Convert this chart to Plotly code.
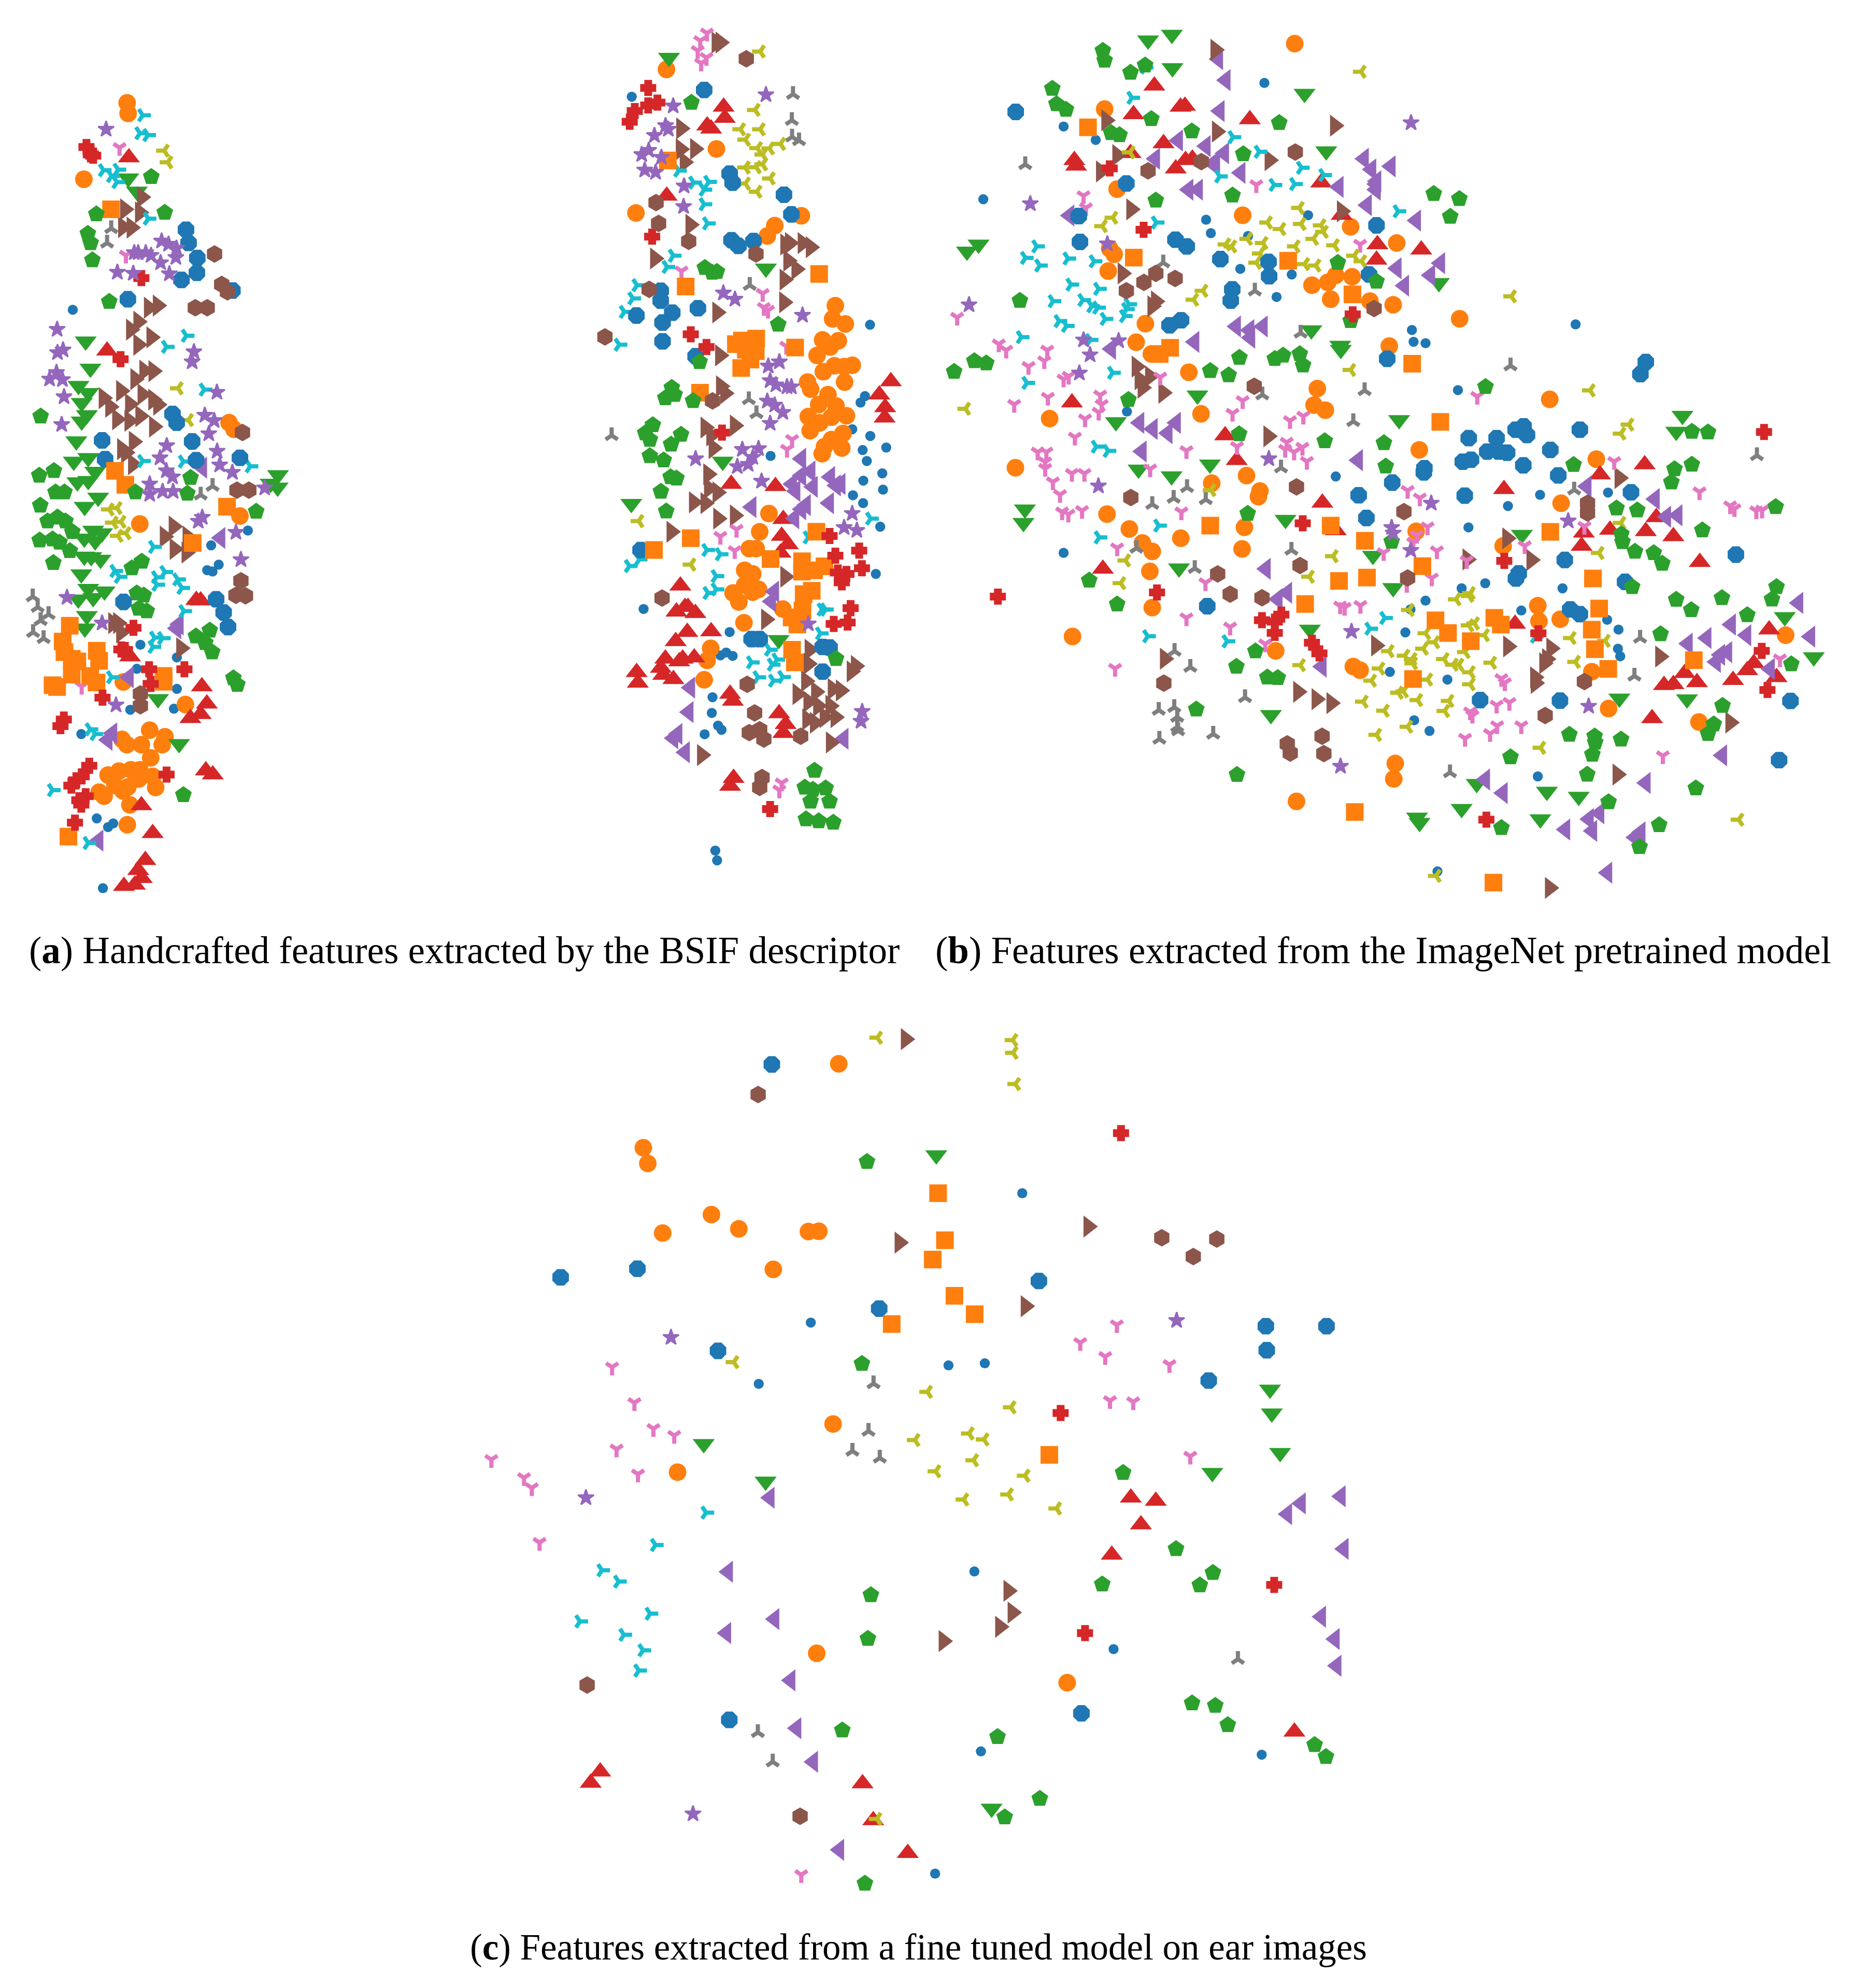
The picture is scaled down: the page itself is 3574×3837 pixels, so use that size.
import plotly.graph_objects as go

# every scatter was read on two sheets stacked vertically, lower() moves the second sheet down


def lower(points, dy=1568):
    return [(x, y + dy) for x, y in points]


# left scatter of (a)
a_dot = [(367,878)] + lower([(1065,201),(1250,145),(1103,274),(1045,295),(1072,300),(708,577),(892,625),(690,668),(892,744),(657,823),(877,819),(410,915),(488,1234),(545,1267),(571,1253),(519,1498)])
a_circle = [(641,95),(646,135),(423,384),(1155,1305),(1180,1330)] + lower([(705,120),(1210,90),(755,900),(832,925),(818,955),(640,955),(615,935),(713,955),(760,1005),(545,1070),(600,1055),(660,1050),(705,1050),(770,1075),(580,1110),(700,1085),(645,1115),(620,1130),(785,1117),(500,1135),(525,1150),(655,1183),(642,1258),(622,718),(935,803)])
a_down = [(647,380),(690,430),(432,997),(456,1100),(396,1165),(445,1192),(412,1230),(438,1276),(412,1300),(385,1375),(372,1452),(445,1438),(480,1490),(390,1530),(445,1525),(1402,1503),(1365,1535),(1400,1550)] + lower([(427,55),(495,20),(515,155),(470,145),(425,175),(480,185),(425,243),(460,245),(507,255),(410,310),(445,365),(527,375),(395,405),(470,400),(438,468),(428,515),(797,782),(903,952)])
a_up = [(650,302),(540,1033)] + lower([(990,408),(1012,410),(1018,735),(1043,800),(1012,840),(960,855),(656,622),(1038,1053),(1073,1068),(713,1185),(770,1290),(733,1392),(697,1430),(715,1460),(680,1485),(625,1490)])
a_left = [(1020,1475)] + lower([(1112,173),(902,500),(890,515),(650,700),(567,912),(543,937),(497,1318)])
a_right = [(715,452),(630,498),(705,510),(620,565),(663,567),(750,870),(795,862),(697,923),(660,953),(763,982),(697,1010),(773,1110),(727,1108),(682,1140),(610,1185),(522,1212),(555,1245),(655,1235),(718,1198),(772,1218),(797,1237),(590,1292),(652,1298),(707,1280),(776,1320),(674,1377),(615,1405),(635,1418),(670,1462)] + lower([(875,130),(830,168),(945,168),(880,215),(940,228),(913,590),(595,495),(570,495),(610,530)])
a_tri_down = [(603,265),(635,672)] + lower([(412,735)])
a_tri_up = [(561,570),(540,625),(1072,1545)] + lower([(1012,10),(165,395),(190,435),(205,485),(245,462),(167,530),(220,553)])
a_tri_left = [(828,276),(846,320),(898,1175),(950,1295)] + lower([(550,65),(590,60),(570,115),(610,112),(595,165),(635,155)])
a_tri_right = [(720,142),(706,210),(746,217),(522,350),(596,348),(563,372),(590,395),(748,533),(940,976),(840,1018),(720,1450),(925,1452),(1030,1180),(1262,1470)] + lower([(775,207),(580,298),(602,320),(790,322),(832,302),(792,350),(897,330),(918,362),(928,450),(780,550),(820,552),(772,585),(563,700),(455,897),(480,915),(265,1127),(445,1327)])
a_octagon = [(938,575),(951,625),(995,682),(993,738),(915,765),(1172,805),(645,838),(870,1272),(891,1305),(515,1372),(530,1443),(969,1376),(989,1447),(1210,1438)] + lower([(623,415),(1090,405),(1128,455),(1150,510)])
a_square = [(560,498),(580,1487),(632,1540)] + lower([(1145,55),(972,192),(352,505),(316,565),(325,605),(362,630),(390,640),(488,600),(500,638),(362,690),(455,695),(487,720),(265,730),(288,737),(825,695),(825,717),(345,1303)])
a_pentagon = [(763,375),(486,516),(831,510),(443,590),(457,625),(466,690),(551,847),(205,1281),(198,1505),(272,1487),(961,1513)] + lower([(280,0),(325,0),(683,0),(945,5),(203,50),(1292,73),(240,110),(290,95),(330,110),(365,150),(200,182),(265,178),(300,190),(352,222),(269,267),(665,287),(715,262),(690,382),(725,390),(700,440),(740,450),(988,545),(1058,523),(1035,570),(1070,605),(1177,703),(1197,728),(925,1145)])
a_plus = [(436,262),(458,290),(470,295),(713,758),(608,1065)] + lower([(673,513),(612,595),(630,597),(752,670),(930,670),(760,725),(517,777),(322,860),(305,885),(450,1035),(412,1075),(385,1090),(360,1110),(432,1150),(400,1165),(410,1182),(840,1068),(378,1250)])
a_star = [(535,195),(815,618),(850,630),(890,645),(887,680),(677,662),(697,662),(735,662),(762,672),(810,700),(592,736),(672,740),(854,742),(288,952),(290,1040),(318,1030),(285,1115),(250,1140),(315,1142),(323,1207),(311,1312),(978,1037),(969,1075),(1094,1190),(1033,1277),(1080,1297),(1053,1347),(841,1392),(807,1438),(1095,1413),(1108,1465),(1172,1493),(839,1487),(870,1510),(755,1537),(820,1565),(873,1565),(1335,1552)] + lower([(1020,95),(1000,110),(1190,152),(1215,255),(338,398),(515,495),(585,805),(755,8)])
a_hexagon = [(1082,667),(1118,782),(1147,810),(985,870),(1045,870),(1223,1342),(1195,1560),(1255,1560)] + lower([(1215,335),(1190,390),(1238,392),(708,763),(708,808)])

# middle scatter
m_dot = [(267,289),(1297,1101),(1275,1355),(1256,1378),(1220,1473),(1298,1497),(1265,1547),(1367,1538)] + lower([(867,0),(1283,18),(1350,62),(1268,88),(1353,120),(1223,140),(1267,168),(1341,252),(1322,420),(318,545),(690,627),(650,710),(675,700),(703,712),(616,859),(613,915),(640,960),(655,975),(582,991),(628,1405),(636,1440)])
m_circle = [(417,192),(633,475),(285,703),(1000,713),(885,748),(853,785),(1147,1033),(1135,1080),(1190,1098),(1092,1155),(1160,1158),(1125,1180),(1068,1210),(1143,1247),(1095,1268),(1185,1250),(1220,1245),(1187,1305),(1027,1305),(1040,1330),(1115,1350),(1075,1385),(1150,1390),(1195,1425),(1030,1428),(1080,1450),(1130,1430),(1038,1478),(1180,1488),(1130,1510),(1100,1535),(1175,1540),(1090,1560)] + lower([(860,205),(820,270),(775,330),(805,330),(755,407),(790,420),(755,460),(705,488),(790,485),(815,475),(730,520),(920,545),(752,594),(608,685),(593,728),(580,797)])
m_down = [(428,150),(847,900)] + lower([(660,20),(265,170),(902,655)])
m_up = [(664,325),(669,365),(593,392),(610,403),(418,642),(1387,1303),(1337,1350),(1362,1395),(1360,1432)] + lower([(697,100),(888,108),(922,225),(915,285),(942,315),(910,345),(477,462),(460,555),(497,538),(510,538),(542,560),(507,627),(457,660),(610,625),(412,722),(393,755),(487,722),(472,732),(537,718),(447,795),(403,780),(288,770),(293,808),(692,847),(704,872),(904,917),(932,955),(922,987),(707,1147),(692,1175)])
m_left = lower([(1000,10),(1040,55),(1000,70),(960,100),(975,125),(1050,110),(1125,75),(1170,100),(1150,105),(1120,168),(785,182),(1020,175),(1000,190),(970,222),(883,483),(870,518),(520,825),(513,912),(465,990),(447,1005),(497,1055),(1183,1007)])
m_right = [(650,96),(633,96),(480,402),(478,476),(540,475),(495,522),(520,745),(367,865),(930,815),(950,810),(1005,810),(1040,825),(943,873),(978,903),(927,940),(925,1021),(636,1057),(648,1210),(652,1320),(670,1345),(585,1467),(712,1460),(610,1495),(620,1540)] + lower([(597,65),(600,115),(637,130),(535,165),(585,168),(640,223),(712,212),(438,270),(847,582),(930,430),(1035,690),(1030,740),(1020,802),(983,848),(1063,840),(1135,830),(1170,835),(1030,875),(1072,890),(1125,890),(1025,938),(1058,950),(1100,930),(1147,930),(1235,748),(1217,767),(570,1065),(1127,1020)])
m_tri_down = [(592,63),(563,90),(552,125),(590,150),(567,170),(482,910),(833,990),(838,1040),(856,1050),(960,1510),(938,1545),(935,1178)] + lower([(720,262),(650,287),(712,338),(915,1165),(905,1190)])
m_tri_up = [(964,280),(959,373),(960,432),(990,445),(777,960),(773,1367),(806,1417),(180,1495)]
m_tri_left = [(822,128),(800,336),(737,405),(822,405),(758,442),(810,472),(862,473),(910,457),(832,495),(832,530),(757,541),(805,540),(865,580),(758,598),(808,627)] + lower([(297,232),(522,387)])
m_tri_right = [(470,552),(535,595),(600,592),(580,620),(580,672),(595,740),(447,855),(420,895),(290,960),(272,1007),(235,1055),(213,1172)] + lower([(1300,223),(1030,290),(592,335),(650,350),(257,392),(300,368),(632,428),(632,475),(597,488),(1090,547),(1105,547),(1083,632),(863,690),(895,725),(785,735),(875,743),(813,788),(880,800),(920,787)])
m_octagon = [(580,265),(690,563),(703,595),(925,638),(957,708),(698,800),(728,820),(793,803),(392,980),(392,1015),(442,1058),(287,1068),(400,1093),(553,1042),(400,1160),(543,1213)] + lower([(305,335),(785,652),(820,652),(1092,680),(1122,682),(1092,768)])
m_square = [(423,516),(500,965),(1077,920),(743,1157),(805,1150),(717,1170),(760,1190),(803,1195),(780,1225),(740,1255),(973,1182),(562,1343)] + lower([(522,293),(363,335),(867,367),(1065,270),(1003,375),(1003,412),(1055,407),(1100,393),(1045,480),(1010,492),(1005,550),(958,575),(983,600),(960,690),(972,735)])
m_pentagon = [(525,310),(583,898),(615,915),(635,912),(900,1100),(560,1233),(440,1325),(452,1350),(412,1362),(532,1372),(358,1458),(325,1487),(345,1510),(480,1492),(437,1527)] + lower([(345,0),(405,15),(435,75),(460,80),(393,127),(416,197),(1150,722),(1057,1120),(1015,1180),(1050,1188),(1105,1183),(1040,1230),(1122,1230),(1020,1293),(1075,1300),(1138,1305)])
m_plus = [(338,258),(338,320),(378,310),(280,340),(258,378),(355,787),(522,1135),(590,1180),(657,1485)] + lower([(1122,285),(1147,355),(1250,337),(1262,400),(1158,415),(1195,420),(1175,450),(1213,542),(1140,598),(1200,593),(865,1257)])
m_star = [(847,282),(446,322),(413,392),(425,405),(365,427),(340,480),(395,505),(310,495),(323,550),(370,558),(493,607),(491,680),(663,988),(713,1010),(1005,1067),(905,1233),(857,1248),(865,1300),(890,1315),(938,1322),(957,1322),(853,1373),(885,1387),(920,1413),(865,1452),(745,1545),(815,1542)] + lower([(543,10),(723,38),(770,30),(790,5),(828,90),(1220,205),(1185,255),(1240,265),(1030,598),(1263,910),(1258,945)])
m_hexagon = [(762,154),(372,666),(383,740),(513,804),(804,849),(342,975),(151,1144),(616,1372)] + lower([(398,506),(766,813),(798,915),(820,975),(775,985),(838,1008),(997,998),(830,1145),(820,1180)])

# right scatter, left half
b_dot = [(1115,240),(440,395),(548,443),(170,654),(919,727),(935,775),(1060,785),(1262,711),(1034,902),(1207,922),(1156,1002),(653,1410)] + lower([(1355,73),(440,345),(1537,769)])
b_circle = [(1217,100),(578,333),(620,618),(1042,711),(1405,752),(610,850),(595,830),(590,910),(1560,810),(1410,930),(1355,925),(1328,950),(1275,960),(1338,1010),(1470,1017),(1548,1030),(715,1097),(684,1163),(735,1205),(765,1205),(861,1270),(1535,1177),(1293,1328),(1282,1387),(1320,1405),(902,1418),(393,1435)] + lower([(278,42),(938,97),(1055,70),(1100,125),(1095,145),(586,207),(661,260),(705,310),(738,340),(834,293),(1048,254),(1040,331),(730,411),(738,540),(1153,694),(1414,750),(1437,763),(470,643),(1223,1230),(1555,1095),(1550,1150)])
b_down = [(724,88),(804,68),(806,187),(1250,278),(1323,483),(154,815),(115,840),(1273,1120),(1370,1175),(1372,1190),(890,1352),(616,1447),(1568,1440)] + lower([(692,48),(803,72),(932,30),(310,190),(305,238),(1186,227),(828,400),(1480,355),(1548,470),(1268,618),(1137,922)])
b_up = [(745,250),(675,352),(833,325),(848,322),(776,455),(476,515),(482,535),(665,490),(850,515),(873,510),(817,545),(1066,370),(1306,595),(1375,710),(1495,815),(1492,870),(468,1378),(983,1495)] + lower([(1022,15),(1310,167),(572,402),(1355,265)])
b_left = [(960,155),(985,230),(965,340),(825,445),(918,465),(980,490),(748,510),(950,520),(945,530),(1035,560),(860,620),(892,620),(1365,610),(1450,510),(1475,548),(1540,537),(1490,600),(1492,590),(1460,675),(1490,620),(460,712),(1560,900),(1020,1107),(1065,1120),(1110,1107),(1068,1147),(880,1162),(600,1187),(695,1450),(740,1472),(790,1487),(818,1450),(703,1552)] + lower([(1430,15),(1120,402),(1192,487),(1160,510),(1308,750)])
b_right = [(950,122),(583,373),(955,413),(1352,392),(620,497),(1132,515),(565,555),(667,690),(1375,697),(638,918),(750,1018),(738,1035),(685,1250),(730,1285),(695,1295),(705,1325),(775,1343),(1128,1498)] + lower([(780,722),(1228,840),(1290,866),(1340,880),(1490,675)])
b_tri_down = [(507,642),(515,685),(1088,603),(1437,815),(82,1075),(222,1170),(247,1192),(385,1192),(375,1230),(322,1250),(440,1295),(457,1285),(765,1288),(387,1360),(274,1385),(1042,1372),(1008,1417),(563,1352),(568,1385),(558,1413),(512,1437),(478,1502),(1201,1443),(1246,1427),(1023,1535),(1190,1520),(1185,1545),(1215,1555),(1243,1538),(853,1550),(353,1555),(382,1555)] + lower([(378,22),(378,45),(404,93),(428,138),(468,63),(510,63),(731,47),(836,200),(435,200),(456,208),(502,195),(620,328),(917,452),(853,577),(613,757),(1000,610),(1118,670),(1370,535),(1385,540),(1438,533),(1516,345),(1258,20)])
b_tri_up = [(311,530),(775,880),(1083,980),(1237,1130),(1108,1350),(1452,1335),(1414,1445)] + lower([(1171,42),(855,112),(810,150),(738,172),(918,155),(685,328),(1206,335),(881,400),(813,695),(866,752),(1050,860),(760,905),(812,895),(822,930),(822,965),(825,978),(762,1008),(943,990)])
b_tri_left = [(663,487),(605,720),(570,750),(1232,685),(1125,737),(1170,760),(1238,742),(1305,747),(1313,770),(985,815),(1005,822),(1058,795),(1110,810),(1100,847),(1218,822),(1280,795),(1350,818),(1417,855),(1442,875),(1088,880),(1250,885),(1288,890),(908,980),(877,1012),(1405,1262),(1440,200),(110,1400)] + lower([(935,122),(648,372),(632,453),(1346,357),(1266,430),(1236,745),(1503,757),(1534,695),(1475,800),(1565,843),(1447,875),(1518,907),(1492,993)])
b_tri_right = [(715,185),(670,293),(1010,433),(1098,485),(1240,542),(965,573),(1315,568),(1148,603),(1217,600),(1565,697),(752,737),(350,822),(312,863),(360,890),(455,865),(543,875),(465,958),(558,973),(405,1017),(505,1013),(535,1035),(555,1040),(660,1028),(652,1045),(645,1070),(580,1080),(425,1088),(450,1105),(298,1145),(530,1155),(605,1272),(317,1308),(550,1535),(590,1550)] + lower([(760,248),(560,290),(723,642),(990,660),(1520,577),(1470,615)])
b_octagon = [(279,343),(651,598),(491,714),(1492,747),(495,806),(816,798),(854,822),(967,867),(1129,877),(1131,928),(1467,922),(1007,975),(1002,1015),(835,1085),(796,1103),(1528,1222)] + lower([(1545,95),(1432,140),(1458,221),(923,535)])
b_square = [(522,398),(676,862),(1195,873),(1411,993),(798,1183),(763,1205)] + lower([(933,248),(1338,248),(1453,302),(1366,445),(1460,433),(1252,527),(1419,1268)])
b_pentagon = [(572,125),(578,160),(714,177),(665,203),(402,260),(416,315),(448,335),(735,368),(600,418),(628,425),(871,412),(1165,382),(1044,493),(1008,640),(750,658),(1362,880),(1492,947),(293,1015),(140,1230),(180,1238),(72,1268),(1031,1218),(933,1265),(995,1280),(1150,1222),(1178,1210),(1234,1205),(1245,1245),(1405,1087),(658,1368),(1030,1490),(1318,1515),(1517,1522)] + lower([(1523,37),(1059,205),(526,443),(620,528),(1085,695),(1021,750),(1125,788),(1160,790),(886,902),(1023,1135),(1543,305)])
b_plus = [(595,544),(709,763),(1412,1064)] + lower([(1244,240),(754,486),(219,501),(1107,585),(1172,565),(1150,590),(1150,630),(1275,665),(1300,703)])
b_star = [(328,670),(587,813),(122,1030),(507,1155),(625,1158),(529,1208),(493,1273)] + lower([(1130,10),(557,107),(1543,255),(1548,275),(1408,625),(1371,1105)])
b_hexagon = [(903,520),(724,553),(1219,486),(750,918),(710,950),(815,936),(651,980),(1484,1043),(1081,1320)] + lower([(666,148),(1223,110),(1235,390),(958,420),(1000,492),(1107,505),(777,809),(1192,1025),(1202,1058),(1309,998),(1315,1060)])

# right scatter, right half (read at a slightly different scale)
r_dot = [(621,233),(45,253),(51,295),(93,300),(207,467),(496,840),(735,832),(383,880),(244,956),(575,1173),(220,1173),(303,1155),(93,1217),(40,1248),(430,1252),(732,1285),(772,1320),(22,1330),(770,1388),(778,1415),(170,1498),(53,1643),(107,1681),(488,1843),(135,2181)]
r_circle = [(213,213),(530,500),(71,680),(694,713),(570,870),(60,970),(366,1022),(488,1235),(492,1290),(567,1283),(678,1470),(1360,1340),(737,1601),(1055,1649)]
r_down = [(140,85),(997,558),(975,615),(432,982),(1357,1275),(1459,1418),(775,1565),(1013,1568),(273,1869),(520,1897),(632,1915),(220,1958),(63,1989),(72,2008),(497,1995)]
r_up = [(78,-33),(864,732),(707,768),(369,820),(905,920),(742,965),(650,975),(868,970),(965,988),(642,1022),(1058,1080),(408,1300),(1302,1320),(1248,1440),(1225,1465),(1175,1500),(1005,1475),(1048,1508),(965,1515),(932,1518),(1328,1490),(890,1636)]
r_left = [(60,-137),(145,15),(110,58),(18,95),(660,810),(900,855),(940,918),(980,913),(1405,1225),(1168,1302),(1222,1340),(1016,1370),(1082,1350),(1447,1345),(1155,1400),(1130,1410),(1115,1435),(1305,1460),(1137,1768),(303,1854),(365,1902),(868,1866),(705,1974),(668,1995),(585,2032),(680,2037),(850,2042),(830,2060),(733,2186)]
r_right = [(775,780),(380,995),(240,1070),(465,1072),(383,1380),(918,1416),(535,1387),(520,1425),(510,1440),(478,1490),(480,1510),(1165,1651),(768,1836),(530,2240)]
r_tri_down = [(30,825),(73,852),(757,722),(275,490),(1057,830),(1165,880),(1180,890),(1257,898),(1277,895),(100,955),(62,985),(50,1010),(652,953),(442,1022),(133,1040),(238,1075),(1340,1425),(115,1137),(27,1160),(360,1495),(372,1510),(343,1590),(388,1580),(250,1614),(258,1626),(345,1663),(430,1663),(320,1691),(232,1708),(928,1770)]
r_tri_up = [(392,380),(1259,700),(616,822),(848,1350),(828,1485),(179,1829)]
r_tri_left = [(395,133),(672,468),(808,590),(780,622),(780,940),(703,1047),(200,1212),(250,1190),(245,1200),(35,1250),(265,1298),(245,1305),(605,1350),(93,1333),(300,1340),(725,1360),(125,1365),(85,1388),(20,1413),(45,1425),(47,1440),(232,1400),(158,1425),(190,1445),(210,1445),(620,1435),(325,1438),(100,1498),(250,1472),(250,1515),(15,1540),(65,1571),(175,1574),(160,1610),(30,1666),(498,1741),(130,2197),(1195,1997)]
r_tri_right = [(480,1345)]
r_octagon = [(868,367),(849,410),(245,638),(343,638),(410,608),(438,596),(450,627),(636,608),(310,686),(350,686),(380,690),(532,680),(253,715),(224,722),(437,735),(560,771),(89,745),(87,760),(816,831),(231,843),(583,1072),(421,1120),(411,1138),(795,1150),(1185,1053),(602,1248),(636,1265),(285,1571),(566,1573),(1377,1574),(1337,1785)]
r_square = [(145,580),(46,373),(532,972),(82,1094),(682,1138),(704,1245),(128,1287),(172,1332),(335,1278),(358,1302),(252,1361),(678,1320),(689,1390),(736,1460),(1037,1429),(49,1496),(332,2221)]
r_pentagon = [(122,-232),(212,-214),(180,-151),(304,455),(614,733),(1030,732),(969,748),(958,795),(1030,615),(1087,617),(765,888),(838,895),(1067,966),(782,980),(786,1008),(830,1042),(896,1047),(926,1085),(820,1168),(975,1213),(1028,1250),(1136,1207),(1328,1168),(1312,1212),(1225,1268),(920,1336),(1325,883),(1380,1443),(1138,1591),(599,1694),(688,1700),(690,1722),(781,1711),(680,1765),(1107,1657),(1087,1691),(392,1774),(662,1836),(1044,1885),(737,1934),(915,2016),(360,2026),(846,2094)]
r_plus = [(1284,616),(370,1075),(490,1333),(1276,1396),(1296,1535),(307,1997)]
r_star = [(42,-485),(113,870),(595,933),(41,1038),(667,1593)]
r_hexagon = [(663,870),(663,905),(30,1136),(652,1505),(17,900),(514,1626)]

# scatter of (c)
c_dot = [(1158,1050),(983,1256),(1869,615),(1621,1194),(1743,1187),(1708,1887),(2176,2148),(1730,2492),(2674,2503),(1576,2903)]
c_circle = [(1252,180),(595,462),(610,515),(824,687),(660,749),(916,735),(1150,744),(1185,743),(1032,871),(1233,1391),(710,1553),(1178,2162),(2020,2261)]
c_down = [(798,1458),(1006,1584),(1580,487),(2702,1275),(2708,1355),(2736,1488),(2508,1555),(1766,2684)]
c_up = [(2234,1639),(2318,1650),(2268,1729),(2170,1831),(450,2560),(418,2598),(1332,2600),(1368,2724),(1484,2834),(2784,2426)]
c_left = [(1020,1639),(2806,1658),(2760,1694),(2940,1634),(2950,1811),(880,1888),(1036,2047),(874,2094),(2874,2039),(2920,2114),(2926,2204),(1090,2253),(1110,2414),(1166,2527),(1254,2823)]
c_right = [(1477,97),(1456,781),(2091,727),(1880,995),(1822,1952),(1836,2025),(1794,2073),(1604,2121)]
c_tri_down = [(490,1200),(565,1320),(629,1407),(699,1430),(505,1476),(84,1511),(194,1572),(220,1606),(577,1560),(246,1790),(2187,1058),(2064,1118),(2148,1165),(2364,1192),(2164,1313),(2242,1317),(2434,1500),(1126,2907)]
c_tri_up = [(1369,1255),(1352,1415),(1298,1482),(1390,1505),(2594,2182),(980,2428),(1030,2527)]
c_tri_left = [(1382,92),(899,1183),(1550,1283),(1508,1445),(1578,1550),(1837,100),(1838,143),(1846,248),(1831,1335),(1690,1423),(1740,1443),(1705,1513),(1878,1565),(1672,1645),(1822,1628),(1984,1675),(1380,2719)]
c_tri_right = [(806,1689),(636,1798),(456,1883),(512,1921),(382,2055),(618,2029),(530,2100),(594,2152),(580,2220)]
c_octagon = [(1027,182),(575,869),(317,898),(1388,1003),(846,1145),(1925,910),(2688,1062),(2892,1062),(2691,1143),(2496,1245),(884,2386),(2068,2364)]
c_square = [(1430,1055),(1586,615),(1609,773),(1568,838),(1641,960),(1709,1022),(1960,1495)]
c_pentagon = [(1347,509),(1330,1188),(2208,1555),(2386,1811),(2510,1891),(2466,1933),(2138,1930),(1360,1966),(1350,2113),(2440,2330),(2518,2338),(2560,2403),(1264,2421),(1786,2443),(2852,2470),(2890,2510),(1928,2651),(1810,2713),(1340,2936)]
c_plus = [(2201,413),(1998,1354),(2716,1932),(2080,2094)]
c_star = [(688,1100),(2388,1043),(402,1639),(762,2702)]
c_hexagon = [(981,283),(2338,765),(2523,769),(2444,828),(406,2269),(1122,2710)]

# marker and colour of each class, in drawing order
class_symbols = ["circle", "circle", "triangle-down", "triangle-up", "triangle-left", "triangle-right",
                 "y-down", "y-up", "y-left", "y-right", "octagon", "square", "pentagon", "cross", "star", "hexagon"]
class_colors = ["#1f77b4", "#ff7f0e", "#2ca02c", "#d62728", "#9467bd", "#8c564b",
                "#e377c2", "#7f7f7f", "#bcbd22", "#17becf", "#1f77b4", "#ff7f0e", "#2ca02c", "#d62728", "#9467bd", "#8c564b"]
class_sizes = [19.5, 34, 37, 37, 37, 37, 19.5, 19.5, 19.5, 19.5, 34.5, 34, 34, 20, 23, 34]
class_lines = [0, 0, 0, 0, 0, 0, 8, 8, 8, 8, 0, 0, 0, 7, 3, 0]

panel_a = [a_dot, a_circle, a_down, a_up, a_left, a_right, a_tri_down, a_tri_up, a_tri_left, a_tri_right, a_octagon, a_square, a_pentagon, a_plus, a_star, a_hexagon]
panel_m = [m_dot, m_circle, m_down, m_up, m_left, m_right, m_tri_down, m_tri_up, m_tri_left, m_tri_right, m_octagon, m_square, m_pentagon, m_plus, m_star, m_hexagon]
panel_b = [b_dot, b_circle, b_down, b_up, b_left, b_right, b_tri_down, b_tri_up, b_tri_left, b_tri_right, b_octagon, b_square, b_pentagon, b_plus, b_star, b_hexagon]
panel_r = [r_dot, r_circle, r_down, r_up, r_left, r_right, r_tri_down, r_tri_up, r_tri_left, r_tri_right, r_octagon, r_square, r_pentagon, r_plus, r_star, r_hexagon]
panel_c = [c_dot, c_circle, c_down, c_up, c_left, c_right, c_tri_down, c_tri_up, c_tri_left, c_tri_right, c_octagon, c_square, c_pentagon, c_plus, c_star, c_hexagon]

W = 3574
H = 3837

# panel name, data, axis suffix, x range, y range, pixel box left/right/top/bottom
panels = [
    ("a", panel_a, "", [0, 1568], [3136, 0], 0, 600, 150, 1750),
    ("m", panel_m, "2", [0, 1568], [3136, 0], 1100, 1800, 30, 1730),
    ("b", panel_b, "3", [0, 1568], [3136, 0], 1800, 2700, 30, 1730),
    ("r", panel_r, "4", [0, 1568], [2270, -867], 2700, 3560, 30, 1730),
    ("c", panel_c, "5", [0, 3136], [3136, 0], 900, 2700, 1950, 3750),
]

fig = go.Figure()
layout_axes = {}
for name, data, suffix, xr, yr, left, right, top, bottom in panels:
    for i, pts in enumerate(data):
        fig.add_trace(go.Scatter(
            x=[p[0] for p in pts],
            y=[p[1] for p in pts],
            mode="markers",
            name=f"{name} class {i}",
            xaxis="x" + suffix,
            yaxis="y" + suffix,
            cliponaxis=False,
            marker=dict(symbol=class_symbols[i], size=class_sizes[i], color=class_colors[i],
                        line=dict(width=class_lines[i], color=class_colors[i])),
        ))
    layout_axes["xaxis" + suffix] = dict(domain=[left / W, right / W], range=xr, visible=False,
                                         anchor="y" + suffix)
    layout_axes["yaxis" + suffix] = dict(domain=[1 - bottom / H, 1 - top / H], range=yr, visible=False,
                                         anchor="x" + suffix)

captions = [
    ("(<b>a</b>) Handcrafted features extracted by the BSIF descriptor", 54, 1835, 73),
    ("(<b>b</b>) Features extracted from the ImageNet pretrained model", 1803, 1835, 73),
    ("(<b>c</b>) Features extracted from a fine tuned model on ear images", 905, 3758, 71),
]
annotations = [dict(text=t, x=px / W, y=1 - py / H, xref="paper", yref="paper", xanchor="left", yanchor="middle",
                    showarrow=False, font=dict(family="Liberation Serif", size=fs, color="black"))
               for t, px, py, fs in captions]

fig.update_layout(width=W, height=H, margin=dict(l=0, r=0, t=0, b=0), showlegend=False,
                  paper_bgcolor="white", plot_bgcolor="white", annotations=annotations, **layout_axes)

# the default page has a body margin that would push the figure off by a few pixels
fig.write_html("out.html", config={"displayModeBar": False}, post_script="document.body.style.margin='0';")
